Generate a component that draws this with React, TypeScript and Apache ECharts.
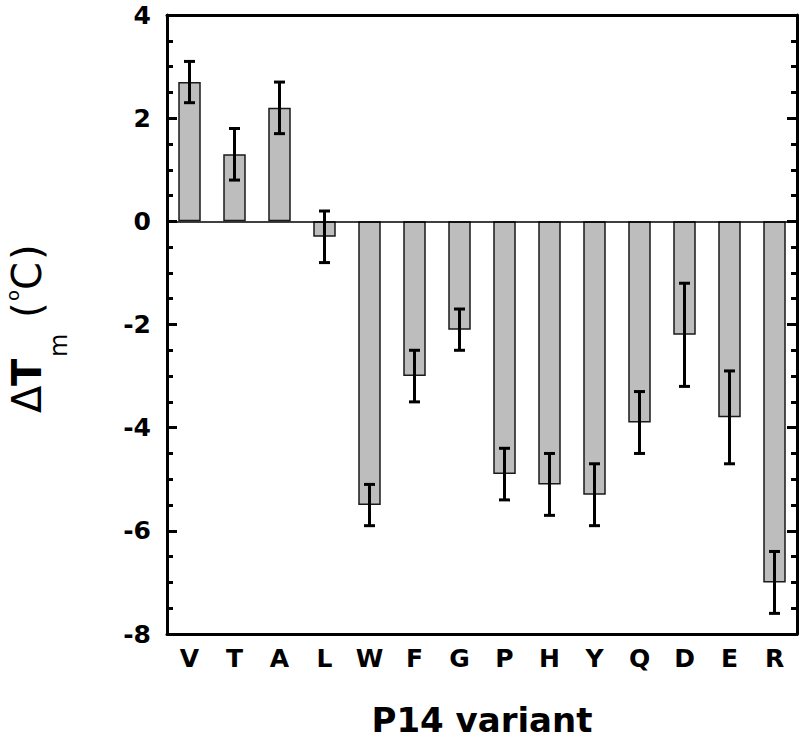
import React, { useEffect, useRef } from "react";
import * as echarts from "echarts";

const categories = ["V", "T", "A", "L", "W", "F", "G", "P", "H", "Y", "Q", "D", "E", "R"];
const values = [2.7, 1.3, 2.2, -0.3, -5.5, -3.0, -2.1, -4.9, -5.1, -5.3, -3.9, -2.2, -3.8, -7.0];
const errors = [0.4, 0.5, 0.5, 0.5, 0.4, 0.5, 0.4, 0.5, 0.6, 0.6, 0.6, 1.0, 0.9, 0.6];
const yMin = -8;
const yMax = 4;
const yInterval = 2;
const xAxisTitle = "P14 variant";

const FONT = "'DejaVu Sans', 'Liberation Sans', Arial, sans-serif";

export default function App() {
  const ref = useRef<HTMLDivElement>(null);
  useEffect(() => {
    if (!ref.current) return;
    const chart = echarts.init(ref.current, null, { renderer: "svg" });
    const errData = categories.map((_, i) => [i, values[i] - errors[i], values[i] + errors[i]]);
    const yAxisBase = {
      type: "value",
      min: yMin,
      max: yMax,
      interval: yInterval,
      splitLine: { show: false },
      axisLine: { show: true, lineStyle: { color: "#000", width: 3 } },
      axisTick: { show: true, inside: true, length: 10, lineStyle: { color: "#000", width: 3 } },
      minorTick: { show: true, splitNumber: 4, length: 6, lineStyle: { color: "#000", width: 3 } },
      minorSplitLine: { show: false },
    };
    const option: any = {
      animation: false,
      backgroundColor: "#fff",
      grid: { left: 167, right: 3, top: 15, bottom: 103, containLabel: false },
      xAxis: [
        {
          type: "category",
          data: categories,
          position: "bottom",
          axisLine: { show: true, onZero: false, lineStyle: { color: "#000", width: 3 } },
          axisTick: { show: false },
          axisLabel: {
            color: "#000",
            fontFamily: FONT,
            fontWeight: "bold",
            fontSize: 25,
            margin: 12,
            interval: 0,
          },
          name: xAxisTitle,
          nameLocation: "middle",
          nameGap: 69,
          nameTextStyle: { color: "#000", fontFamily: FONT, fontWeight: "bold", fontSize: 34 },
        },
        {
          type: "category",
          data: categories,
          position: "top",
          axisLine: { show: true, onZero: false, lineStyle: { color: "#000", width: 3 } },
          axisTick: { show: false },
          axisLabel: { show: false },
        },
      ],
      yAxis: [
        {
          ...yAxisBase,
          position: "left",
          axisLabel: {
            color: "#000",
            fontFamily: FONT,
            fontWeight: "bold",
            fontSize: 25,
            margin: 16,
          },
        },
        {
          ...yAxisBase,
          position: "right",
          axisLabel: { show: false },
        },
      ],
      series: [
        {
          type: "bar",
          data: values,
          barWidth: "50%",
          itemStyle: { color: "#bdbdbd", borderColor: "#1a1a1a", borderWidth: 1.5 },
          markLine: {
            silent: true,
            symbol: "none",
            label: { show: false },
            lineStyle: { color: "#000", width: 1.5, type: "solid" },
            data: [{ yAxis: 0 }],
          },
          z: 2,
        },
        {
          type: "custom",
          data: errData,
          z: 5,
          renderItem: (params: any, api: any) => {
            const x = api.value(0);
            const lo = api.value(1);
            const hi = api.value(2);
            const pHi = api.coord([x, hi]);
            const pLo = api.coord([x, lo]);
            const hw = 5.5;
            const st = { stroke: "#000", lineWidth: 3 };
            return {
              type: "group",
              children: [
                { type: "line", shape: { x1: pHi[0], y1: pHi[1], x2: pLo[0], y2: pLo[1] }, style: st },
                { type: "line", shape: { x1: pHi[0] - hw, y1: pHi[1], x2: pHi[0] + hw, y2: pHi[1] }, style: st },
                { type: "line", shape: { x1: pLo[0] - hw, y1: pLo[1], x2: pLo[0] + hw, y2: pLo[1] }, style: st },
              ],
            };
          },
        },
      ],
      graphic: [
        {
          type: "group",
          x: 42,
          y: 413,
          rotation: Math.PI / 2,
          children: [
            { type: "text", x: 0, y: -15, style: { text: "Δ", fill: "#000", font: `normal 40px ${FONT}`, textAlign: "left", textVerticalAlign: "middle" } },
            { type: "text", x: 27, y: -15, style: { text: "T", fill: "#000", font: `bold 40px ${FONT}`, textAlign: "left", textVerticalAlign: "middle" } },
            { type: "text", x: 56, y: 17, style: { text: "m", fill: "#000", font: `normal 24px ${FONT}`, textAlign: "left", textVerticalAlign: "middle" } },
            { type: "text", x: 95, y: -15, style: { text: "(", fill: "#000", font: `normal 40px ${FONT}`, textAlign: "left", textVerticalAlign: "middle" } },
            { type: "text", x: 112, y: -30, style: { text: "o", fill: "#000", font: `normal 18px ${FONT}`, textAlign: "left", textVerticalAlign: "middle" } },
            { type: "text", x: 123, y: -15, style: { text: "C", fill: "#000", font: `normal 40px ${FONT}`, textAlign: "left", textVerticalAlign: "middle" } },
            { type: "text", x: 153, y: -15, style: { text: ")", fill: "#000", font: `normal 40px ${FONT}`, textAlign: "left", textVerticalAlign: "middle" } },
          ],
        },
      ],
    };
    chart.setOption(option);
    return () => chart.dispose();
  }, []);
  return (
    <div
      ref={ref}
      style={{ position: "fixed", left: 0, top: 0, width: 800, height: 742, background: "#fff" }}
    />
  );
}
